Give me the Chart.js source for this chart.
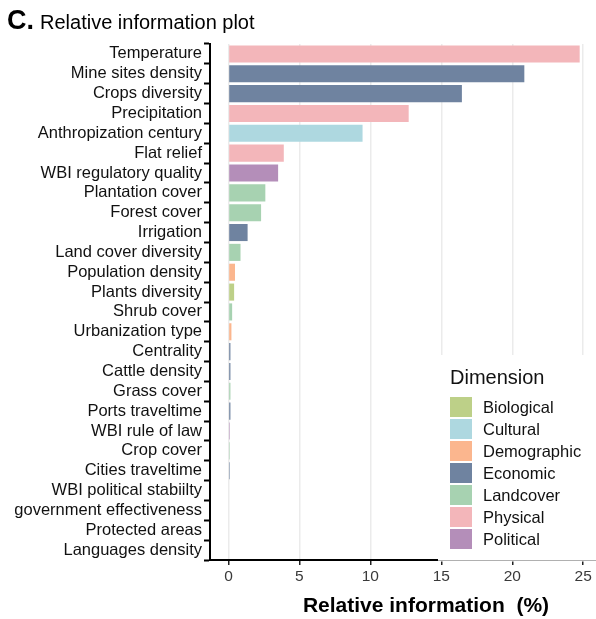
<!DOCTYPE html>
<html>
<head>
<meta charset="utf-8">
<script src="https://cdn.jsdelivr.net/npm/chart.js@4.4.0/dist/chart.umd.min.js"></script>
<style>
  html, body { margin: 0; padding: 0; background: #fff; }
  #wrap { width: 596px; height: 619px; position: relative; }
</style>
</head>
<body>
<div id="wrap"><canvas id="chart"></canvas></div>
<script>
var categories = ['Temperature', 'Mine sites density', 'Crops diversity', 'Precipitation',
  'Anthropization century', 'Flat relief', 'WBI regulatory quality', 'Plantation cover',
  'Forest cover', 'Irrigation', 'Land cover diversity', 'Population density',
  'Plants diversity', 'Shrub cover', 'Urbanization type', 'Centrality', 'Cattle density',
  'Grass cover', 'Ports traveltime', 'WBI rule of law', 'Crop cover', 'Cities traveltime',
  'WBI political stabiilty', 'government effectiveness', 'Protected areas', 'Languages density'];
var values = [24.75, 20.85, 16.45, 12.7, 9.45, 3.9, 3.5, 2.6, 2.3, 1.35, 0.85, 0.46,
  0.4, 0.26, 0.21, 0.14, 0.14, 0.14, 0.14, 0.09, 0.09, 0.09, 0, 0, 0, 0];
var dimensionOf = ['Physical', 'Economic', 'Economic', 'Physical', 'Cultural', 'Physical',
  'Political', 'Landcover', 'Landcover', 'Economic', 'Landcover', 'Demographic',
  'Biological', 'Landcover', 'Demographic', 'Economic', 'Economic', 'Landcover',
  'Economic', 'Political', 'Landcover', 'Economic', 'Political', 'Political',
  'Landcover', 'Cultural'];
var dimensions = ['Biological', 'Cultural', 'Demographic', 'Economic', 'Landcover', 'Physical', 'Political'];
var dimColors = ['#bdd088', '#aed8e0', '#fbb68e', '#6f83a0', '#a7d2b1', '#f3b6ba', '#b48eb9'];
var tickValues = [0, 5, 10, 15, 20, 25];

var barColors = dimensionOf.map(function(d){ return dimColors[dimensions.indexOf(d)]; });
var FONT = '"Liberation Sans", Arial, sans-serif';

var decor = {
  id: 'decor',
  afterDraw: function(chart) {
    var ctx = chart.ctx;
    var area = chart.chartArea;
    ctx.save();
    // panel title
    ctx.fillStyle = '#000';
    ctx.textBaseline = 'alphabetic';
    ctx.textAlign = 'left';
    ctx.font = 'bold 27px ' + FONT;
    ctx.fillText('C.', 7, 29);
    ctx.font = '20px ' + FONT;
    ctx.fillText('Relative information plot', 40, 29);

    // legend box covers the grid and the end of the axis line
    ctx.fillStyle = '#fff';
    ctx.fillRect(438, 355, area.right - 438, area.bottom - 355 + 1.5);
    ctx.strokeStyle = '#b0b0b0';
    ctx.lineWidth = 1;
    ctx.beginPath();
    ctx.moveTo(438, area.bottom + 0.5);
    ctx.lineTo(area.right, area.bottom + 0.5);
    ctx.stroke();

    ctx.fillStyle = '#111';
    ctx.font = '20px ' + FONT;
    ctx.fillText('Dimension', 450, 384);
    ctx.font = '16.5px ' + FONT;
    ctx.textBaseline = 'middle';
    for (var i = 0; i < dimensions.length; i++) {
      var y = 397 + i * 22;
      ctx.fillStyle = dimColors[i];
      ctx.fillRect(450, y, 22, 20);
      ctx.fillStyle = '#111';
      ctx.fillText(dimensions[i], 483, y + 11);
    }

    // x axis title
    ctx.textBaseline = 'alphabetic';
    ctx.textAlign = 'center';
    ctx.fillStyle = '#000';
    ctx.font = 'bold 21px ' + FONT;
    ctx.fillText('Relative information  (%)', 426, 612);
    ctx.restore();
  }
};

var ctx = document.getElementById('chart').getContext('2d');
var chart = new Chart(ctx, {
  type: 'bar',
  data: {
    labels: categories,
    datasets: [{
      label: 'Relative information',
      data: values,
      backgroundColor: barColors,
      borderWidth: 0,
      barPercentage: 0.86,
      categoryPercentage: 1
    }]
  },
  options: {
    indexAxis: 'y',
    responsive: true,
    maintainAspectRatio: false,
    animation: false,
    layout: { padding: { top: 44, right: 0, left: 0, bottom: 0 } },
    plugins: {
      legend: { display: false },
      tooltip: { enabled: false }
    },
    scales: {
      x: {
        type: 'linear',
        min: -1.3,
        max: 25.9,
        afterBuildTicks: function(scale) {
          scale.ticks = tickValues.map(function(v){ return { value: v }; });
        },
        afterFit: function(scale) { scale.height = 59; },
        grid: {
          color: '#ebebeb',
          lineWidth: 1.5,
          drawTicks: true,
          tickLength: 5,
          tickColor: '#222',
          tickWidth: 1.5
        },
        border: { display: true, color: '#000', width: 2 },
        ticks: {
          color: '#3a3a3a',
          font: { size: 15.5, family: FONT },
          padding: 2
        }
      },
      y: {
        type: 'category',
        afterFit: function(scale) { scale.width = 210; },
        grid: {
          drawOnChartArea: false,
          drawTicks: true,
          tickLength: 6,
          tickColor: '#000',
          tickWidth: 2
        },
        border: { display: true, color: '#000', width: 2 },
        ticks: {
          color: '#111',
          font: { size: 16.5, family: FONT },
          padding: 2,
          autoSkip: false
        }
      }
    }
  },
  plugins: [decor]
});
</script>
</body>
</html>
